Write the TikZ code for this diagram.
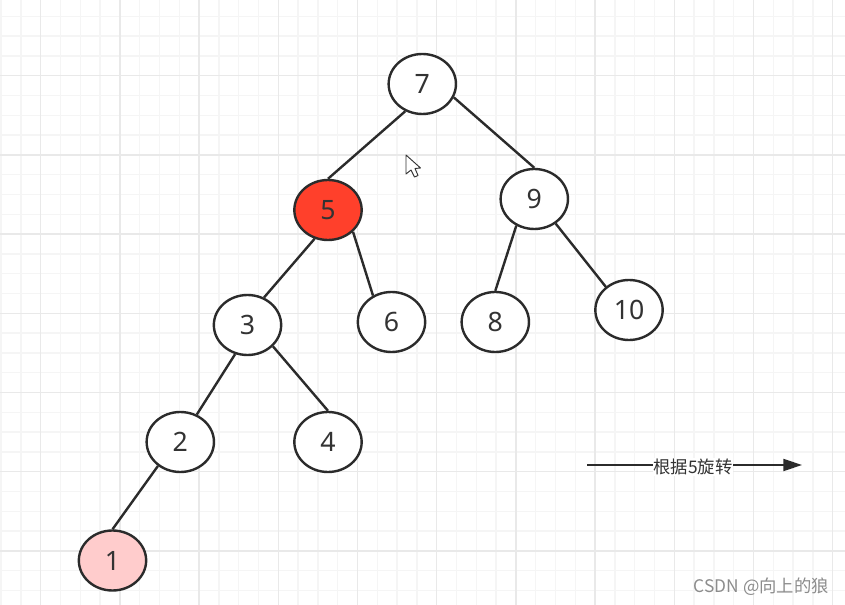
\documentclass[tikz,border=0pt]{standalone}
\usepackage{fontspec}
\setmainfont{Noto Sans}
\newfontfamily\cjk{Noto Sans CJK SC}
\usetikzlibrary{shapes.geometric,arrows.meta}
\definecolor{inkc}{HTML}{2B2B2B}
\definecolor{txtc}{HTML}{333333}
\definecolor{minorg}{HTML}{F5F5F5}
\definecolor{majorg}{HTML}{E9E9E9}
\newcommand{\dropnum}[1]{\raisebox{-1pt}{#1}}
\tikzset{
  x=0.75pt,y=-0.75pt,
  tree/.style={ellipse,draw=inkc,line width=1.8pt,minimum width=50.5pt,minimum height=45pt,inner sep=0pt,fill=white,text=txtc,font=\fontsize{20}{22}\selectfont},
  link/.style={draw=inkc,line width=1.8pt},
  minorl/.style={draw=minorg,line width=1pt},
  majorl/.style={draw=majorg,line width=1.1pt}
}
\begin{document}
\begin{tikzpicture}
\useasboundingbox (0,0) rectangle (845,605);
\fill[white] (0,0) rectangle (845,605);
\foreach \k in {0,...,42} {
  \pgfmathsetmacro{\gx}{1.1+19.8*\k}
  \draw[minorl] (\gx,0) -- (\gx,605);
}
\foreach \k in {0,...,30} {
  \pgfmathsetmacro{\gy}{-3.5+19.8*\k}
  \draw[minorl] (0,\gy) -- (845,\gy);
}
\foreach \k in {0,...,10} {
  \pgfmathsetmacro{\gx}{40.7+79.2*\k}
  \draw[majorl] (\gx,0) -- (\gx,605);
}
\foreach \k in {1,...,7} {
  \pgfmathsetmacro{\gy}{-3.5+79.2*\k}
  \draw[majorl] (0,\gy) -- (845,\gy);
}
\node[tree] (n7) at (422.3,84) {\dropnum{7}};
\node[tree,fill={rgb,255:red,255;green,64;blue,43}] (n5) at (328,210) {\dropnum{5}};
\node[tree] (n9) at (534.3,199) {\dropnum{9}};
\node[tree] (n3) at (247.5,325) {\dropnum{3}};
\node[tree] (n6) at (391.5,322) {\dropnum{6}};
\node[tree] (n8) at (495.3,322) {\dropnum{8}};
\node[tree] (n10) at (629,310) {\dropnum{10}};
\node[tree] (n2) at (180.3,442) {\dropnum{2}};
\node[tree] (n4) at (328,442) {\dropnum{4}};
\node[tree,fill={rgb,255:red,255;green,204;blue,204}] (n1) at (112.5,560.5) {\dropnum{1}};
\draw[link] (n7.238) -- (n5.90);
\draw[link] (n7.-23) -- (n9.90);
\draw[link] (n5.245) -- (n3.59);
\draw[link] (n5.-41) -- (n6.125);
\draw[link] (n3.247) -- (n2.59);
\draw[link] (n3.-40) -- (n4.90);
\draw[link] (n2.227) -- (n1.90);
\draw[link] (n9.236) -- (n8.90);
\draw[link] (n9.-49) -- (n10.135);
\coordinate (as) at (587,465);
\coordinate (ae) at (802,465);
\draw[link,line width=1.5pt,-{Triangle[length=14pt,width=9pt]}] (as) -- (ae);
\node[fill=white,inner sep=0.6pt,text=txtc,font=\fontsize{13}{14}\selectfont\cjk] (lab) at (693,467) {根据5旋转};
\node[text=black!45,inner sep=0pt,font=\fontsize{13}{14}\selectfont\cjk,anchor=east] (wm) at (829,587) {CSDN @向上的狼};
\draw[draw=black!80,fill=white,line width=0.7pt,line join=round] (406,155) -- (406,174) -- (411,170) -- (414.5,177) -- (418,175.5) -- (415,168.5) -- (420.5,168) -- cycle;
\end{tikzpicture}
\end{document}
